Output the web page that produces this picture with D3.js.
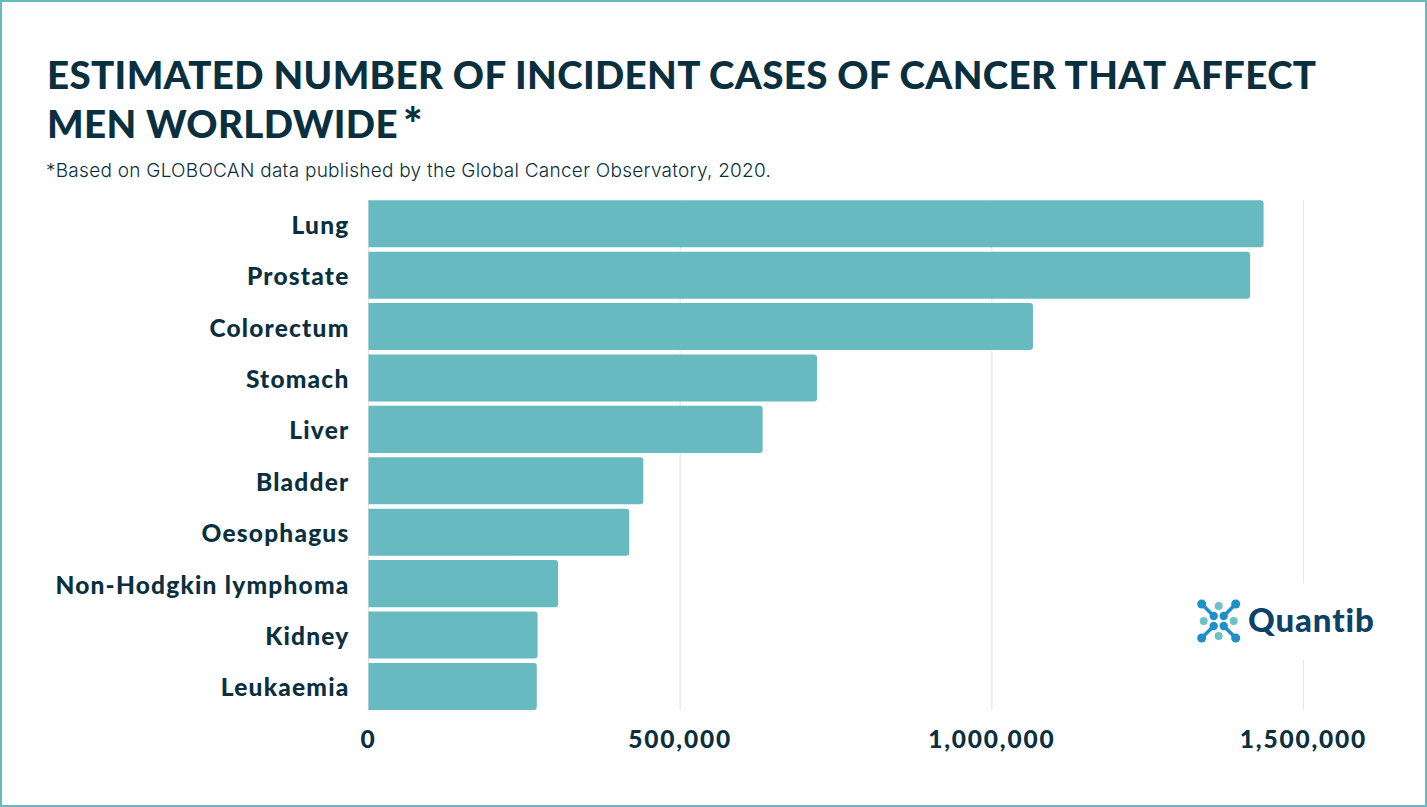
<!DOCTYPE html>
<html><head><meta charset="utf-8">
<script src="https://cdn.jsdelivr.net/npm/d3@7"></script>
<style>
html,body{margin:0;padding:0;background:#fff;overflow:hidden}
svg{display:block}
text{font-family:Lato,sans-serif;fill:#0a3040}
</style></head><body>
<svg id="c" width="1427" height="807"></svg>
<script>
const categories=["Lung","Prostate","Colorectum","Stomach","Liver","Bladder","Oesophagus","Non-Hodgkin lymphoma","Kidney","Leukaemia"];
const cases=[1435943,1414259,1065960,719523,632320,440864,418350,304151,271249,270000];
const tickValues=[0,500000,1000000,1500000];
const titleLines=["ESTIMATED NUMBER OF INCIDENT CASES OF CANCER THAT AFFECT","MEN WORLDWIDE"];
const titleMark="*";
const subtitle="*Based on GLOBOCAN data published by the Global Cancer Observatory, 2020.";
const brand="Quantib";

const svg=d3.select("#c");
const teal="#67babf", ink="#0a3040";
svg.append("rect").attr("x",1).attr("y",1).attr("width",1425).attr("height",805).attr("fill","#fff").attr("stroke",teal).attr("stroke-width",2);

const x=d3.scaleLinear().domain([0,1500000]).range([368.5,1303.5]);
const y=d3.scaleBand().domain(categories).range([199.2,711]).paddingInner(0.085).paddingOuter(0.02);

svg.append("g").selectAll("line").data(tickValues).join("line")
 .attr("x1",d=>x(d)).attr("x2",d=>x(d)).attr("y1",200).attr("y2",710)
 .attr("stroke","#e4e6e6").attr("stroke-width",1.2);

const rr=3;
svg.append("g").selectAll("path").data(categories).join("path")
 .attr("fill",teal)
 .attr("d",(d,i)=>{const x0=x(0),x1=x(cases[i]),y0=y(d),y1=y0+y.bandwidth();
   return `M${x0},${y0}H${x1-rr}Q${x1},${y0} ${x1},${y0+rr}V${y1-rr}Q${x1},${y1} ${x1-rr},${y1}H${x0}Z`;});

svg.append("g").selectAll("text").data(categories).join("text")
 .attr("x",349.5).attr("y",d=>y(d)+y.bandwidth()/2+10).attr("text-anchor","end")
 .attr("font-size",24.5).attr("font-weight",900).attr("letter-spacing",1.2).text(d=>d);

svg.append("g").selectAll("text").data(tickValues).join("text")
 .attr("x",d=>x(d)).attr("y",748).attr("text-anchor","middle")
 .attr("font-size",24.5).attr("font-weight",900).attr("letter-spacing",1.8).text(d=>d3.format(",")(d));

const titles=svg.append("g").selectAll("text").data(titleLines).join("text")
 .attr("x",47).attr("y",(d,i)=>89+i*49).attr("font-size",38.5).attr("font-weight",900).attr("letter-spacing",0.35).text(d=>d);
titles.filter((d,i)=>i===1).append("tspan").attr("dx",5).attr("dy",3).attr("font-size",46).text(titleMark);

svg.append("text").attr("x",46).attr("y",177).attr("font-size",19).attr("font-weight",300)
 .attr("letter-spacing",0.26).style("font-family","Inter,sans-serif").text(subtitle);

// logo (white plate interrupts the last gridline)
const logo=svg.append("g");
logo.append("rect").attr("x",1190).attr("y",583).attr("width",195).attr("height",77).attr("fill","#fff");
const blue="#1f8fca", lt="#6fc0c4";
const cx=1218.7, cy=621;
[[-1,-1],[1,-1],[-1,1],[1,1]].forEach(([a,b])=>{
  logo.append("path").attr("d",`M${cx+a*5},${cy+b*5}L${cx+a*17},${cy+b*17}`).attr("stroke",blue).attr("stroke-width",3.5).attr("fill","none");
  logo.append("circle").attr("cx",cx+a*17).attr("cy",cy+b*17).attr("r",4.5).attr("fill",blue);
  logo.append("circle").attr("cx",cx+a*5).attr("cy",cy+b*5).attr("r",4.2).attr("fill",blue);
});
[[0,-1],[0,1],[-1,0],[1,0]].forEach(([a,b])=>{
  logo.append("circle").attr("cx",cx+a*15).attr("cy",cy+b*15).attr("r",4).attr("fill",lt);
});
logo.append("text").attr("x",1248).attr("y",632).attr("font-size",33).attr("font-weight",900).attr("letter-spacing",0.9).style("fill","#0d4266").text(brand);
</script></body></html>
